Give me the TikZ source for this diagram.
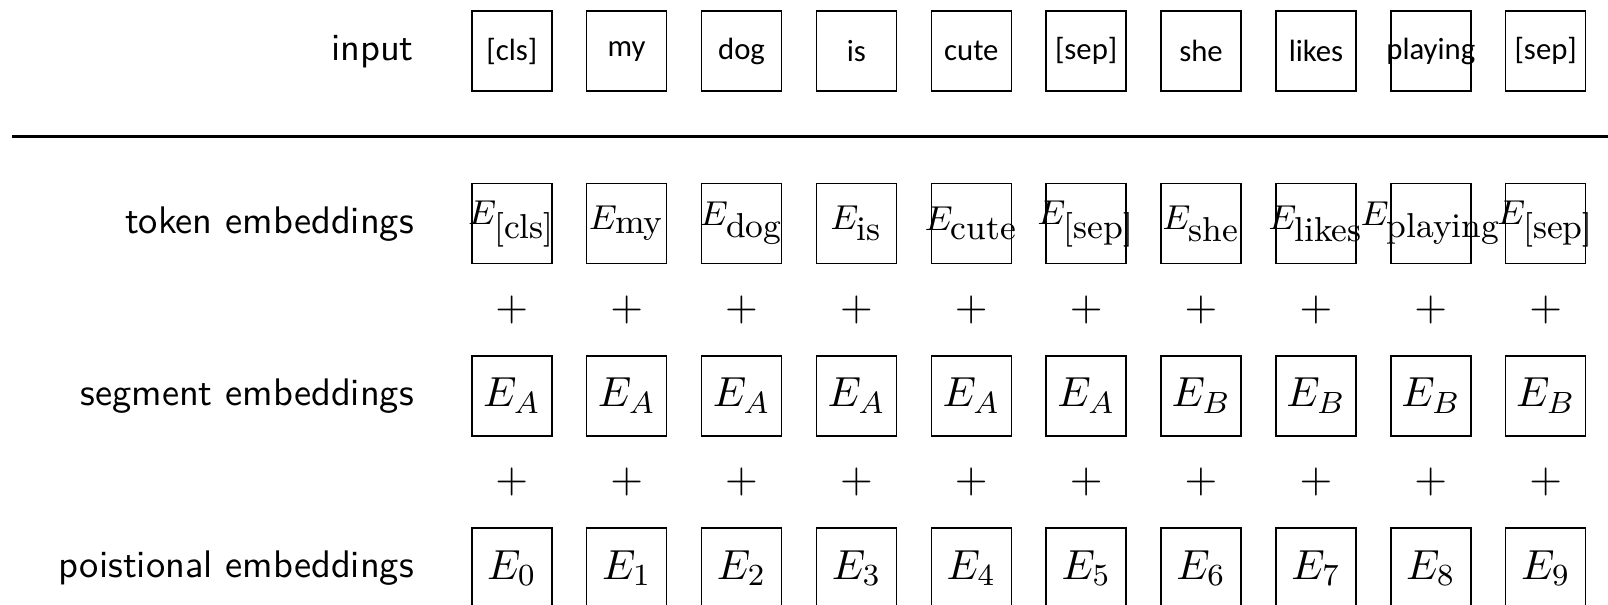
\documentclass[tikz,border=0pt]{standalone}
\usepackage{fontspec}
\newfontfamily\wordfont{Carlito}
\newcommand{\ovl}[1]{\makebox[0pt]{#1}}
\newcommand{\bigmath}{\fontsize{10.95}{13}\selectfont}
\begin{document}
\begin{tikzpicture}[
		wordbox/.style = {draw, minimum size = 0.732cm, inner sep = 0pt},
		rowlabel/.style = {anchor = east, font = \sffamily}]
						\useasboundingbox (0,0) rectangle (14.71,-5.526);
						\clip (0,0) rectangle (14.71,-5.526);
						%Nhãn các hàng
						\node[rowlabel] (lbin) at (3.91,-0.469) {input};
						\node[rowlabel] (lbtok) at (3.91,-2.046) {token embeddings};
						\node[rowlabel] (lbseg) at (3.91,-3.621) {segment embeddings};
						\node[rowlabel] (lbpos) at (3.91,-5.197) {poistional embeddings};
						%Đường kẻ ngang
						\coordinate (lineL) at (0.113,-1.248);
						\coordinate (lineR) at (14.71,-1.248);
						\draw[semithick] (lineL) -- (lineR);
						%Các ô
						\foreach \w [count = \i from 0] in {{[cls]},my,dog,is,cute,{[sep]},she,likes,playing,{[sep]}}
						{
						\node[wordbox, font = \wordfont\footnotesize] (in\i) at (4.682+1.0509*\i,-0.469) {\ovl{\w}};
						\node[wordbox, font = \small] (tok\i) at (4.682+1.0509*\i,-2.046) {\ovl{$E_{\mbox{\w}}$}};
						\node[font = \bigmath] (plA\i) at (4.682+1.0509*\i,-2.833) {$+$};
						\node[font = \bigmath] (plB\i) at (4.682+1.0509*\i,-4.41) {$+$};
						\node[wordbox, font = \bigmath] (pos\i) at (4.682+1.0509*\i,-5.197) {$E_{\i}$};
						}
						\foreach \s [count = \i from 0] in {A,A,A,A,A,A,B,B,B,B}
						\node[wordbox, font = \bigmath] (seg\i) at (4.682+1.0509*\i,-3.621) {$E_{\s}$};
\end{tikzpicture}
\end{document}
